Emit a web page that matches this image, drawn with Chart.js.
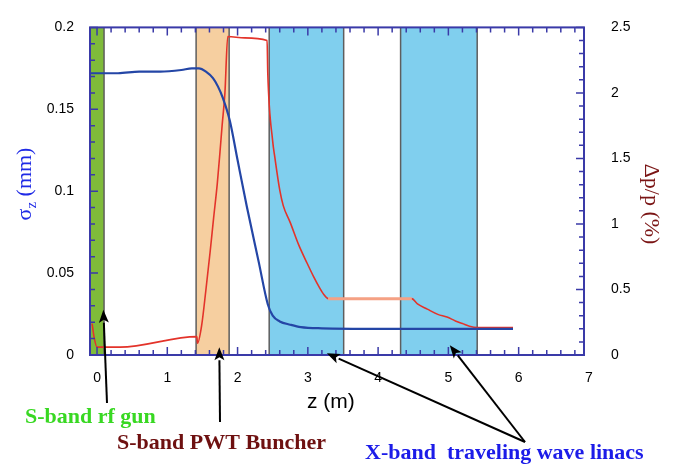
<!DOCTYPE html>
<html>
<head>
<meta charset="utf-8">
<script src="https://cdn.jsdelivr.net/npm/chart.js@4.4.1/dist/chart.umd.min.js"></script>
<style>
  html, body { margin: 0; padding: 0; background: #fff; }
  #wrap { width: 673px; height: 464px; }
</style>
</head>
<body>
<div id="wrap"><canvas id="bunchChart"></canvas></div>
<script>
// beam line sections (z in metres)
const gunSection = [-0.1, 0.1];
const buncherSection = [1.41, 1.88];
const linacSections = [[2.45, 3.51], [4.32, 5.41]];

// rms bunch length (mm)
const zSigma = [-0.1, 0.0, 0.3, 0.6, 0.9, 1.2, 1.35, 1.45, 1.55, 1.65, 1.72, 1.79, 1.89, 2.0, 2.13,
                2.3, 2.43, 2.5, 2.6, 2.75, 2.9, 3.2, 4.0, 5.0, 5.92];
const sigmaZ = [0.172, 0.172, 0.172, 0.173, 0.173, 0.174, 0.175, 0.175, 0.173, 0.169, 0.164, 0.157,
                0.143, 0.119, 0.091, 0.057, 0.031, 0.024, 0.0205, 0.0185, 0.017, 0.0163, 0.016, 0.016, 0.016];

// relative energy spread (%)
const zSpread = [-0.07, -0.04, 0.0, 0.33, 1.42, 1.43, 1.49, 1.55, 1.61, 1.66, 1.71, 1.75, 1.78, 1.82,
                 1.86, 2.1, 2.42, 2.43, 2.5, 2.53, 2.6, 2.65, 2.75, 2.87, 2.99, 3.08, 3.16, 3.23, 3.29,
                 4.48, 4.56, 4.7, 4.85, 4.98, 5.1, 5.2, 5.3, 5.41, 5.92];
const spread = [0.24, 0.13, 0.06, 0.06, 0.14, 0.09, 0.23, 0.5, 0.79, 1.05, 1.3, 1.55, 1.75, 2.0,
                2.43, 2.42, 2.4, 2.15, 1.63, 1.51, 1.26, 1.14, 1.01, 0.84, 0.7, 0.6, 0.52, 0.46, 0.43,
                0.43, 0.39, 0.35, 0.31, 0.29, 0.26, 0.24, 0.22, 0.21, 0.21];

const zTicks = [0, 1, 2, 3, 4, 5, 6, 7];
const sigmaTicks = [0, 0.05, 0.1, 0.15, 0.2];
const spreadTicks = [0, 0.5, 1, 1.5, 2, 2.5];

const AXIS_BLUE = '#3a3aa8';
const SANS = '"Liberation Sans", Arial, sans-serif';
const SERIF = '"Liberation Serif", "Times New Roman", serif';

const callouts = [
  { text: 'S-band rf gun', color: '#38d822', x: 25, y: 423, arrows: [{ z: 0.09, s: 0.0276, from: [107, 403] }] },
  { text: 'S-band PWT Buncher', color: '#6e1010', x: 117, y: 449, arrows: [{ z: 1.74, s: 0.0047, from: [220, 422] }] },
  { text: 'X-band  traveling wave linacs', color: '#1c1ce8', x: 365, y: 459,
    arrows: [{ z: 3.27, s: 0.001, from: [525, 442] }, { z: 5.02, s: 0.006, from: [525, 442] }] }
];

function toPoints(xs, ys) {
  return xs.map((x, i) => ({ x: x, y: ys[i] }));
}

// coloured sections behind the curves
const sectionBands = {
  id: 'sectionBands',
  beforeDatasetsDraw(chart) {
    const { ctx, chartArea: a, scales: { x } } = chart;
    const band = (r, fill) => {
      const x0 = Math.max(x.getPixelForValue(r[0]), a.left);
      const x1 = x.getPixelForValue(r[1]);
      ctx.fillStyle = fill;
      ctx.fillRect(x0, a.top, x1 - x0, a.bottom - a.top);
      ctx.strokeStyle = '#5e5e5e';
      ctx.lineWidth = 1.5;
      ctx.beginPath();
      if (r[0] > x.min) { ctx.moveTo(x0, a.top); ctx.lineTo(x0, a.bottom); }
      ctx.moveTo(x1, a.top); ctx.lineTo(x1, a.bottom);
      ctx.stroke();
    };
    ctx.save();
    band(gunSection, '#7fbb3a');
    band(buncherSection, '#f6cfa0');
    linacSections.forEach(r => band(r, '#80cfee'));
    ctx.restore();
  }
};

// box frame with ticks pointing inwards
const frameTicks = {
  id: 'frameTicks',
  afterDatasetsDraw(chart) {
    const { ctx, chartArea: a, scales: { x, y, y1 } } = chart;
    ctx.save();
    ctx.strokeStyle = AXIS_BLUE;
    ctx.lineWidth = 1.5;
    ctx.beginPath();
    for (let v = 0; v <= 6.9; v += 0.2) {
      const px = x.getPixelForValue(v);
      const len = Math.abs(v - Math.round(v)) < 1e-6 ? 8 : 5;
      ctx.moveTo(px, a.bottom); ctx.lineTo(px, a.bottom - len);
      ctx.moveTo(px, a.top); ctx.lineTo(px, a.top + len);
    }
    for (let i = 0; i <= 20; i++) {
      const py = y.getPixelForValue(i * 0.01);
      ctx.moveTo(a.left, py); ctx.lineTo(a.left + (i % 5 === 0 ? 8 : 5), py);
    }
    for (let i = 0; i <= 25; i++) {
      const py = y1.getPixelForValue(i * 0.1);
      ctx.moveTo(a.right, py); ctx.lineTo(a.right - (i % 5 === 0 ? 8 : 5), py);
    }
    ctx.stroke();
    ctx.lineWidth = 2;
    ctx.strokeRect(a.left, a.top, a.right - a.left, a.bottom - a.top);
    ctx.restore();
  }
};

function arrow(ctx, x0, y0, x1, y1) {
  const ang = Math.atan2(y1 - y0, x1 - x0);
  const hl = 13, hw = 5;
  const bx = x1 - hl * Math.cos(ang), by = y1 - hl * Math.sin(ang);
  ctx.beginPath();
  ctx.moveTo(x0, y0); ctx.lineTo(bx, by);
  ctx.stroke();
  ctx.beginPath();
  ctx.moveTo(x1, y1);
  ctx.lineTo(bx + hw * Math.sin(ang), by - hw * Math.cos(ang));
  ctx.lineTo(bx + 3 * Math.cos(ang), by + 3 * Math.sin(ang));
  ctx.lineTo(bx - hw * Math.sin(ang), by + hw * Math.cos(ang));
  ctx.closePath();
  ctx.fill();
}

// axis titles, section labels and pointers
const labels = {
  id: 'labels',
  afterDraw(chart) {
    const { ctx, scales: { x, y } } = chart;
    ctx.save();

    ctx.fillStyle = '#000';
    ctx.font = '21px ' + SANS;
    ctx.textBaseline = 'alphabetic';
    ctx.textAlign = 'left';
    ctx.fillText('z (m)', 307, 408);

    // sigma_z (mm), rotated
    ctx.save();
    ctx.translate(31, 184);
    ctx.rotate(-Math.PI / 2);
    ctx.fillStyle = '#1f2ae6';
    ctx.font = '22px ' + SERIF;
    const wS = ctx.measureText('\u03c3').width;
    const wR = ctx.measureText(' (mm)').width;
    ctx.font = '15px ' + SERIF;
    const wZ = ctx.measureText('z').width;
    let cx = -(wS + wZ + wR) / 2;
    ctx.font = '22px ' + SERIF;
    ctx.fillText('\u03c3', cx, 0);
    cx += wS;
    ctx.font = '15px ' + SERIF;
    ctx.fillText('z', cx, 5);
    cx += wZ;
    ctx.font = '22px ' + SERIF;
    ctx.fillText(' (mm)', cx, 0);
    ctx.restore();

    // dp/p (%), rotated
    ctx.save();
    ctx.translate(645, 204);
    ctx.rotate(Math.PI / 2);
    ctx.fillStyle = '#7a1414';
    ctx.font = '22px ' + SERIF;
    ctx.textAlign = 'center';
    ctx.fillText('\u0394p/p (%)', 0, 0);
    ctx.restore();

    ctx.strokeStyle = '#000';
    ctx.fillStyle = '#000';
    ctx.lineWidth = 2;
    callouts.forEach(c => c.arrows.forEach(p => {
      arrow(ctx, p.from[0], p.from[1], x.getPixelForValue(p.z), y.getPixelForValue(p.s));
    }));

    ctx.font = 'bold 22px ' + SERIF;
    ctx.textAlign = 'left';
    callouts.forEach(c => {
      ctx.fillStyle = c.color;
      ctx.fillText(c.text, c.x, c.y);
    });
    ctx.restore();
  }
};

const tickFont = { family: SANS, size: 14 };

new Chart(document.getElementById('bunchChart'), {
  type: 'scatter',
  data: {
    datasets: [
      {
        label: 'sigma_z',
        data: toPoints(zSigma, sigmaZ),
        yAxisID: 'y',
        showLine: true,
        borderColor: '#2446a6',
        borderWidth: 2.2,
        pointRadius: 0,
        cubicInterpolationMode: 'monotone'
      },
      {
        label: 'dp/p',
        data: toPoints(zSpread, spread),
        yAxisID: 'y1',
        showLine: true,
        borderColor: '#e3332a',
        borderWidth: 1.6,
        pointRadius: 0,
        cubicInterpolationMode: 'monotone',
        segment: {
          borderColor: c => (c.p0.parsed.x >= 3.28 && c.p1.parsed.x <= 4.49) ? '#f5a184' : undefined,
          borderWidth: c => (c.p0.parsed.x >= 3.28 && c.p1.parsed.x <= 4.49) ? 3 : undefined
        }
      }
    ]
  },
  options: {
    responsive: true,
    maintainAspectRatio: false,
    animation: false,
    layout: { padding: { top: 15, left: 0, right: 0, bottom: 0 } },
    plugins: { legend: { display: false }, tooltip: { enabled: false } },
    scales: {
      x: {
        type: 'linear',
        min: -0.1,
        max: 6.93,
        grid: { display: false },
        border: { display: false },
        afterBuildTicks: s => { s.ticks = zTicks.map(v => ({ value: v })); },
        afterFit: s => { s.height = 109; },
        ticks: { color: '#000', font: tickFont, padding: 7, maxRotation: 0, callback: v => String(v) }
      },
      y: {
        position: 'left',
        min: 0,
        max: 0.2,
        grid: { display: false },
        border: { display: false },
        afterBuildTicks: s => { s.ticks = sigmaTicks.map(v => ({ value: v })); },
        afterFit: s => { s.width = 90; },
        ticks: { color: '#000', font: tickFont, padding: 8, callback: v => String(v) }
      },
      y1: {
        position: 'right',
        min: 0,
        max: 2.5,
        grid: { display: false },
        border: { display: false },
        afterBuildTicks: s => { s.ticks = spreadTicks.map(v => ({ value: v })); },
        afterFit: s => { s.width = 89; },
        ticks: { color: '#000', font: tickFont, padding: 19, callback: v => String(v) }
      }
    }
  },
  plugins: [sectionBands, frameTicks, labels]
});
</script>
</body>
</html>
